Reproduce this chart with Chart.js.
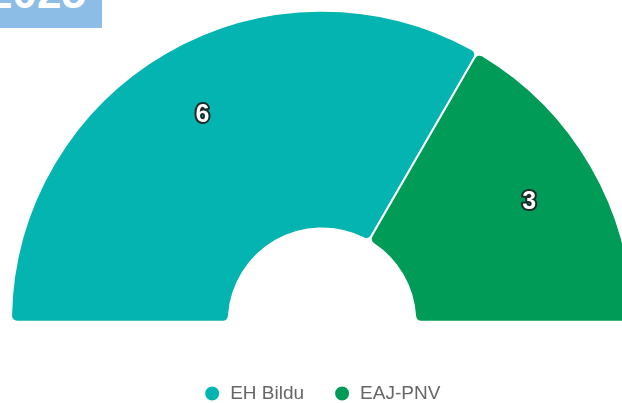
<!DOCTYPE html>
<html>
<head>
<meta charset="utf-8">
<script src="https://cdn.jsdelivr.net/npm/chart.js@4/dist/chart.umd.min.js"></script>
<style>
  html, body { margin: 0; padding: 0; width: 622px; height: 403px; overflow: hidden; background: #ffffff; }
  #wrap { position: absolute; left: 0; top: -22px; width: 644px; height: 435px; }
  #badge { position: absolute; left: 0; top: 0; width: 102px; height: 28px; background: #8bbde6; overflow: hidden; z-index: 2; }
  #badge span { position: absolute; right: 16px; top: -29px; font: bold 44px "Liberation Sans", Arial, sans-serif; line-height: 44px; color: #ffffff; white-space: nowrap; }
</style>
</head>
<body>
<div id="badge"><span>2025</span></div>
<div id="wrap"><canvas id="c"></canvas></div>
<script>
const categories = ["EH Bildu", "EAJ-PNV"];
const seats = [6, 3];
const colors = ["#03b4b1", "#009b57"];

const labelPlugin = {
  id: "sliceLabels",
  afterDatasetsDraw(chart) {
    const ctx = chart.ctx;
    const meta = chart.getDatasetMeta(0);
    meta.data.forEach((arc, i) => {
      const p = arc.getProps(["x", "y", "startAngle", "endAngle", "innerRadius", "outerRadius"], true);
      const mid = (p.startAngle + p.endAngle) / 2;
      const r = p.innerRadius + 0.67 * (p.outerRadius - p.innerRadius);
      const x = p.x + Math.cos(mid) * r;
      const y = p.y + Math.sin(mid) * r;
      ctx.save();
      ctx.font = "bold 25px 'Liberation Sans', Arial, sans-serif";
      ctx.textAlign = "center";
      ctx.textBaseline = "middle";
      ctx.lineJoin = "round";
      ctx.lineWidth = 4;
      ctx.strokeStyle = "#1e2a2a";
      ctx.strokeText(String(seats[i]), x, y);
      ctx.fillStyle = "#ffffff";
      ctx.fillText(String(seats[i]), x, y);
      ctx.restore();
    });
  }
};

new Chart(document.getElementById("c"), {
  type: "doughnut",
  data: {
    labels: categories,
    datasets: [{
      data: seats,
      backgroundColor: colors,
      borderColor: "#ffffff",
      borderWidth: 2,
      borderRadius: 6,
      hoverOffset: 0
    }]
  },
  options: {
    responsive: true,
    maintainAspectRatio: false,
    animation: false,
    rotation: -90,
    circumference: 180,
    cutout: "30%",
    radius: 311,
    layout: { padding: 0 },
    plugins: {
      tooltip: { enabled: false },
      legend: {
        position: "bottom",
        labels: {
          usePointStyle: true,
          pointStyle: "circle",
          boxWidth: 17,
          boxHeight: 11.3,
          padding: 29.5,
          color: "#666666",
          font: { family: "'Liberation Sans', Arial, sans-serif", size: 19 }
        }
      }
    }
  },
  plugins: [labelPlugin]
});
</script>
</body>
</html>
